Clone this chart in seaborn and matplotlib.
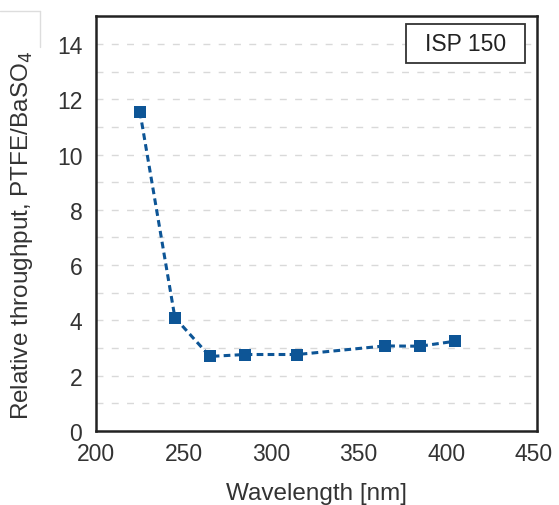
import pandas as pd
import seaborn as sns
import matplotlib.pyplot as plt
from matplotlib.lines import Line2D
from matplotlib.patches import Rectangle

wavelength = [225, 245, 265, 285, 315, 365, 385, 405]
throughput = [11.55, 4.1, 2.7, 2.77, 2.77, 3.08, 3.07, 3.25]
label_text = "ISP 150"

df = pd.DataFrame({"Wavelength": wavelength, "Throughput": throughput})

sns.set_theme(style="white")
plt.rcParams["font.family"] = ["Liberation Sans", "DejaVu Sans"]

fig = plt.figure(figsize=(5.59, 5.06), dpi=100)
ax = fig.add_axes([0.172, 0.146, 0.789, 0.820])

sns.lineplot(data=df, x="Wavelength", y="Throughput", ax=ax,
             color="#0d5596", linestyle=(0, (2.2, 1.4)), linewidth=2.2,
             marker="s", markersize=8.5, markeredgewidth=0)

ax.set_xlim(200, 452)
ax.set_ylim(0, 15)
ax.set_xticks(range(200, 451, 50))
ax.set_yticks(range(0, 15, 2))
ax.set_yticks(range(0, 15), minor=True)
ax.yaxis.grid(True, which="both", color="#d9d9d9", linestyle=(0, (5, 6)), linewidth=1)
ax.set_axisbelow(True)
ax.tick_params(axis="both", labelsize=16.5, length=0, colors="#333333")
ax.tick_params(axis="x", pad=8)
ax.tick_params(axis="y", pad=10)
ax.tick_params(axis="y", which="minor", length=0)

for s in ax.spines.values():
    s.set_color("#222222")
    s.set_linewidth(1.8)

ax.set_xlabel("Wavelength [nm]", fontsize=17.5, color="#333333", labelpad=12)
ax.set_ylabel("Relative throughput, PTFE/BaSO$_4$", fontsize=17.5, color="#333333")
ax.yaxis.set_label_coords(-0.138, 0.475)

# legend-like label box
ax.add_patch(Rectangle((0.703, 0.887), 0.27, 0.094, transform=ax.transAxes,
                       fc="white", ec="#333333", lw=1.3, zorder=5))
ax.text(0.838, 0.934, label_text, transform=ax.transAxes, ha="center", va="center",
        fontsize=16.5, color="#222222", zorder=6)

# faint frame remnant at the top-left corner of the reference
fig.add_artist(Line2D([0, 40 / 559], [1 - 12 / 506, 1 - 12 / 506], color="#dddddd", lw=1))
fig.add_artist(Line2D([40 / 559, 40 / 559], [1 - 12 / 506, 1 - 48 / 506], color="#dddddd", lw=1))

fig.savefig("out.png", dpi=100)
